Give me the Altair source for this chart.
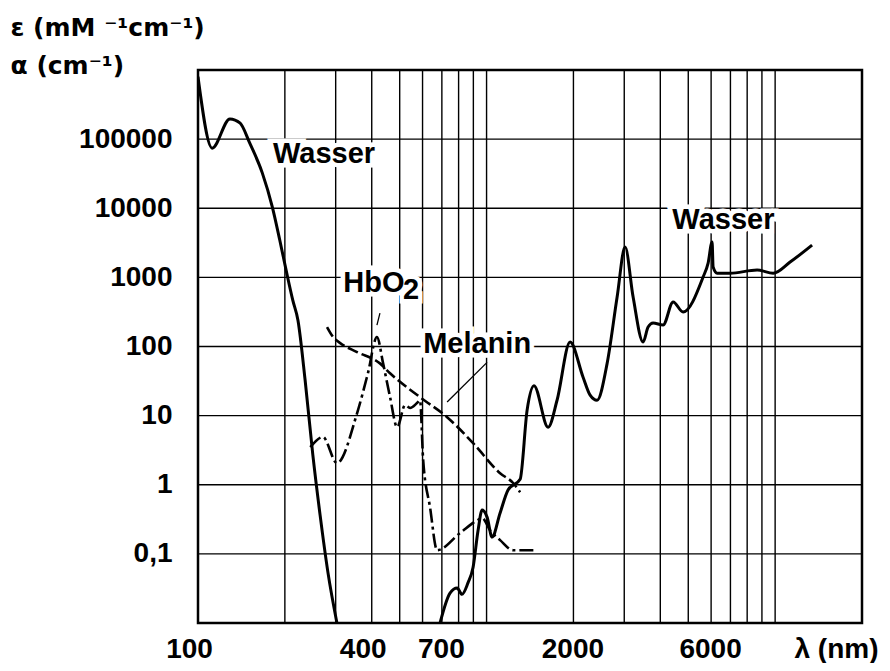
import altair as alt
import pandas as pd

# ---------------- data ----------------
# Wasser (water) absorption coefficient, UV part
water_uv_wl = [100, 112, 129, 140, 151, 167, 181, 192, 203, 213, 222, 235, 250, 265, 282, 303]
water_uv_val = [800000, 74000, 196000, 170000, 88000, 32500, 10400, 3470, 1150, 468, 240, 33, 2.7, 0.36, 0.054, 0.01]

# Wasser, visible / infrared part
water_ir_wl = [690, 747, 791, 822, 862, 898, 934, 965, 1004, 1045, 1114, 1187, 1307, 1382, 1460,
               1634, 1755, 1947, 2160, 2285, 2415, 2617, 2834, 3020, 3220, 3486, 3629, 3776, 4090,
               4431, 4798, 5628, 5858, 6047, 6097, 6295, 6982, 8660, 9846, 11270, 13430]
water_ir_val = [0.01, 0.027, 0.032, 0.026, 0.038, 0.064, 0.216, 0.43, 0.34, 0.175, 0.39, 0.84, 1.2, 12, 27,
                6.8, 16.7, 116, 36, 19.8, 16.7, 57, 519, 2740, 519, 116, 191, 218, 205,
                440, 315, 1010, 1610, 3245, 1410, 1150, 1150, 1276, 1150, 1668, 2930]

# HbO2 extinction coefficient
hbo2_wl = [245, 271, 303, 356, 388, 417, 438, 463, 490, 522, 543, 574, 588, 603, 637, 674,
           809, 934, 965, 1028, 1114, 1236, 1496]
hbo2_val = [3.5, 4.9, 2.06, 10.9, 41, 137, 57, 18.5, 6.8, 14.2, 12.9, 15.2, 16.7, 2.27, 0.47, 0.113,
            0.2, 0.31, 0.33, 0.22, 0.158, 0.113, 0.113]

# Melanin
melanin_wl = [280, 294, 311, 356, 427, 463, 588, 730, 898, 1114, 1236, 1307]
melanin_val = [191, 137, 112, 83, 57, 41, 18.5, 9.5, 4.0, 1.47, 1.06, 0.78]

# grid and tick values
x_grid = [200, 300, 400, 500, 600, 700, 800, 900, 1000,
          2000, 3000, 4000, 5000, 6000, 7000, 8000, 9000, 10000]
y_grid = [0.1, 1, 10, 100, 1000, 10000, 100000]
x_ticks = [100, 400, 700, 2000, 6000]
y_ticks = [0.1, 1, 10, 100, 1000, 10000, 100000]

# in-plot labels
label_text = ["Wasser", "HbO", "2", "Melanin", "Wasser"]
label_wl = [182, 318.6, 513, 603, 4403]
label_val = [45100, 612, 485, 80, 5000]

# leader lines
leader_x1 = [1004, 427]
leader_y1 = [59, 304]
leader_x2 = [730, 417]
leader_y2 = [15.7, 204]

# ---------------- chart ----------------
FONT = "Liberation Sans"
xs = alt.Scale(type="log", domain=[100, 20000], nice=False)
ys = alt.Scale(type="log", domain=[0.01, 1000000], nice=False)

x_axis = alt.Axis(
    values=x_ticks, format="d", grid=False, ticks=False, domain=False,
    labelFont=FONT, labelFontSize=28, labelFontWeight="bold", labelColor="black",
    labelPadding=12, labelFlush=False, labelOverlap=False,
    labelOffset={"condition": {"test": "datum.value <= 400", "value": -9}, "value": -1},
    title="λ (nm)", titleFont=FONT, titleFontSize=28, titleFontWeight="bold", titleColor="black",
    titleAlign="left", titleBaseline="top", titleAnchor="start", titleX=596, titleY=12,
)
y_axis = alt.Axis(
    values=y_ticks, grid=False, ticks=False, domain=False,
    labelExpr="datum.value < 1 ? '0,1' : format(datum.value, 'd')",
    labelFont=FONT, labelFontSize=28, labelFontWeight="bold", labelColor="black",
    labelPadding=26, labelFlush=False, labelOverlap=False,
    title=["ε (mM ⁻¹cm⁻¹)", "α (cm⁻¹)"], titleFont="DejaVu Sans", titleFontSize=25,
    titleFontWeight="bold", titleColor="black", titleAngle=0, titleAlign="left",
    titleBaseline="top", titleAnchor="start", titleX=-188, titleY=-55, titleLineHeight=38,
)

X = alt.X("x:Q", scale=xs, axis=x_axis)
Y = alt.Y("y:Q", scale=ys, axis=y_axis)

vgrid = alt.Chart(pd.DataFrame({"x": x_grid})).mark_rule(color="black", strokeWidth=1.4).encode(x=X)
hgrid = alt.Chart(pd.DataFrame({"y": y_grid})).mark_rule(color="black", strokeWidth=1.4).encode(y=Y)

labels_df = pd.DataFrame({"x": label_wl, "y": label_val, "t": label_text})
halo = alt.Chart(labels_df).mark_text(
    align="left", baseline="alphabetic", font=FONT, fontSize=29, fontWeight="bold",
    color="white", stroke="white", strokeWidth=9,
).encode(x=X, y=Y, text="t:N")
text = alt.Chart(labels_df).mark_text(
    align="left", baseline="alphabetic", font=FONT, fontSize=29, fontWeight="bold", color="black",
).encode(x=X, y=Y, text="t:N")

water_uv = alt.Chart(pd.DataFrame({"x": water_uv_wl, "y": water_uv_val})).mark_line(
    color="black", strokeWidth=3, interpolate="monotone", clip=True
).encode(x=X, y=Y, order="x:Q")
water_ir = alt.Chart(pd.DataFrame({"x": water_ir_wl, "y": water_ir_val})).mark_line(
    color="black", strokeWidth=3, interpolate="monotone", clip=True
).encode(x=X, y=Y, order="x:Q")
hbo2 = alt.Chart(pd.DataFrame({"x": hbo2_wl, "y": hbo2_val})).mark_line(
    color="black", strokeWidth=2.6, interpolate="monotone", strokeDash=[14, 4, 3, 4], clip=True
).encode(x=X, y=Y, order="x:Q")
melanin = alt.Chart(pd.DataFrame({"x": melanin_wl, "y": melanin_val})).mark_line(
    color="black", strokeWidth=2.6, interpolate="monotone", strokeDash=[11, 4], clip=True
).encode(x=X, y=Y, order="x:Q")

leaders = alt.Chart(pd.DataFrame({"x": leader_x1, "y": leader_y1, "x2": leader_x2, "y2": leader_y2})).mark_rule(
    color="black", strokeWidth=1.3
).encode(x=X, y=Y, x2="x2:Q", y2="y2:Q")

chart = alt.layer(
    vgrid, hgrid, halo, leaders, water_uv, water_ir, hbo2, melanin, text
).properties(
    width=664, height=553,
    autosize=alt.AutoSizeParams(type="none"),
    padding={"left": 190, "top": 62, "right": 20, "bottom": 40},
    background="white",
).configure_view(stroke="black", strokeWidth=2.5)

chart.save("out.html", embed_options={"renderer": "svg", "actions": False})
